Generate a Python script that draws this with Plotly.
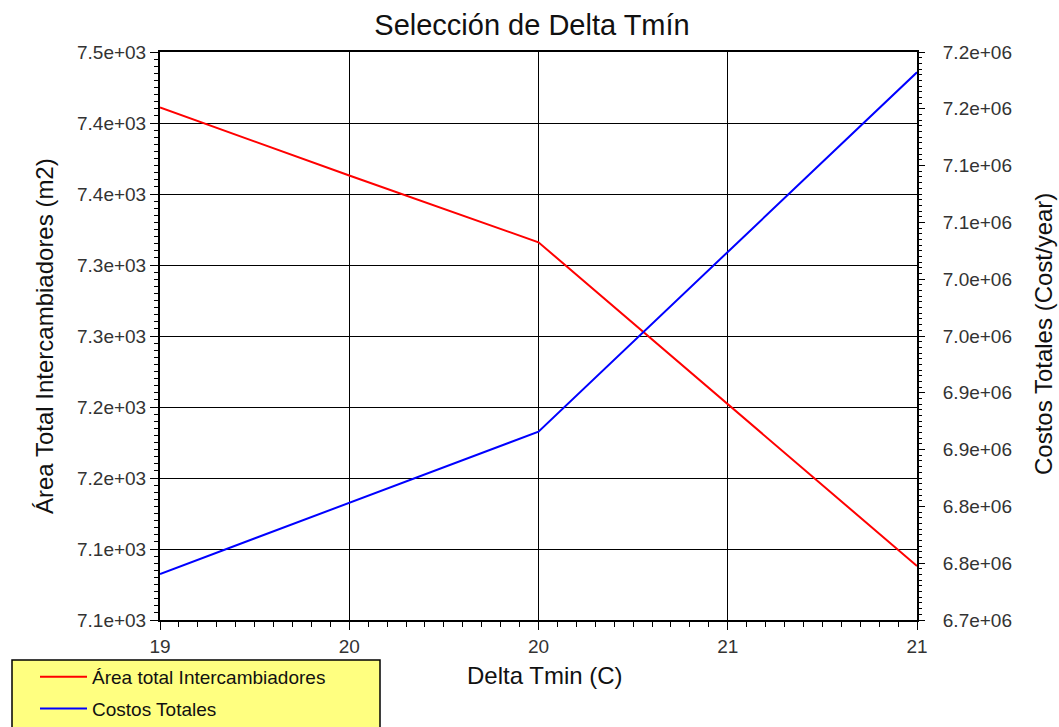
import plotly.graph_objects as go

# ---- data ----
delta_tmin = [19, 19.5, 20, 20.5, 21]
area_total = [7411, 7363, 7316, 7202, 7088]
costos_totales = [6.7405e6, 6.8030e6, 6.8658e6, 7.0240e6, 7.1821e6]

x_tickvals = [19, 19.5, 20, 20.5, 21]
x_ticktext = ["19", "20", "20", "21", "21"]
y1_tickvals = [7050, 7100, 7150, 7200, 7250, 7300, 7350, 7400, 7450]
y1_ticktext = ["7.1e+03", "7.1e+03", "7.2e+03", "7.2e+03", "7.3e+03",
               "7.3e+03", "7.4e+03", "7.4e+03", "7.5e+03"]
y2_tickvals = [6.70e6, 6.75e6, 6.80e6, 6.85e6, 6.90e6, 6.95e6,
               7.00e6, 7.05e6, 7.10e6, 7.15e6, 7.20e6]
y2_ticktext = ["6.7e+06", "6.8e+06", "6.8e+06", "6.9e+06", "6.9e+06", "7.0e+06",
               "7.0e+06", "7.1e+06", "7.1e+06", "7.2e+06", "7.2e+06"]

FONT = "Liberation Sans, Arial, sans-serif"
TICKCOL = "#333333"

W, H = 1059, 727
L, R, T, B = 160, 917, 52, 620
PW, PH = R - L, B - T


def px(xp):
    return (xp - L) / PW


def py(yp):
    return (B - yp) / PH


fig = go.Figure()
fig.add_trace(go.Scatter(
    x=delta_tmin, y=area_total, mode="lines",
    name="Área total Intercambiadores", legendgroup="a",
    line=dict(color="#FF0000", width=2), yaxis="y"))
fig.add_trace(go.Scatter(
    x=delta_tmin, y=costos_totales, mode="lines",
    name="Costos Totales", legendgroup="b",
    line=dict(color="#0000FF", width=2), yaxis="y2"))

fig.update_layout(
    width=W, height=H,
    margin=dict(l=L, r=W - R, t=T, b=H - B, pad=0, autoexpand=False),
    paper_bgcolor="white", plot_bgcolor="white",
    font=dict(family=FONT, color="#111111"),
    title=dict(text="Selección de Delta Tmín", x=px(532), xref="paper",
               xanchor="center", y=1 - 25 / H, yref="container",
               yanchor="middle", font=dict(size=29, color="#111111", family=FONT)),
    xaxis=dict(
        range=[19, 21], tickmode="array", tickvals=x_tickvals, ticktext=x_ticktext,
        showgrid=True, gridcolor="#000000", gridwidth=1,
        showline=True, linecolor="#000000", linewidth=2, mirror=True,
        ticks="outside", ticklen=8, tickcolor="#000000", tickwidth=1,
        minor=dict(tickmode="linear", tick0=19, dtick=0.05, ticks="outside",
                   ticklen=5, tickcolor="#000000", showgrid=False),
        tickfont=dict(size=19, color=TICKCOL, family=FONT),
        zeroline=False,
    ),
    yaxis=dict(
        range=[7050, 7450], tickmode="array", tickvals=y1_tickvals, ticktext=y1_ticktext,
        showgrid=True, gridcolor="#000000", gridwidth=1,
        showline=True, linecolor="#000000", linewidth=2,
        ticks="outside", ticklen=8, tickcolor="#000000", tickwidth=1,
        minor=dict(tickmode="linear", tick0=7050, dtick=5, ticks="outside",
                   ticklen=4, tickcolor="#000000", showgrid=False),
        tickfont=dict(size=19, color=TICKCOL, family=FONT),
        zeroline=False,
    ),
    yaxis2=dict(
        range=[6.70e6, 7.20e6], overlaying="y", side="right",
        tickmode="array", tickvals=y2_tickvals, ticktext=y2_ticktext,
        showgrid=False, showline=True, linecolor="#000000", linewidth=2,
        ticks="outside", ticklen=6, tickcolor="#000000", tickwidth=1,
        ticklabelstandoff=14,
        minor=dict(tickmode="linear", tick0=6.70e6, dtick=5000, ticks="outside",
                   ticklen=3, tickcolor="#000000", showgrid=False),
        tickfont=dict(size=19, color=TICKCOL, family=FONT),
        zeroline=False,
    ),
    showlegend=True,
    legend=dict(x=px(35), y=py(658), xanchor="left", yanchor="top",
                bgcolor="rgba(0,0,0,0)", borderwidth=0,
                font=dict(size=19, color="#111111", family=FONT),
                itemwidth=47, tracegroupgap=4),
    shapes=[dict(type="rect", xref="paper", yref="paper",
                 x0=px(12), x1=px(380), y0=py(735), y1=py(660),
                 fillcolor="#FFFF80", line=dict(color="#000000", width=1.5),
                 layer="below")],
    annotations=[
        dict(text="Delta Tmin (C)", x=px(545), y=py(675), xref="paper", yref="paper",
             showarrow=False, xanchor="center", yanchor="middle",
             font=dict(size=24, color="#111111", family=FONT)),
        dict(text="Área Total Intercambiadores (m2)", x=px(44), y=py(336),
             xref="paper", yref="paper", showarrow=False, textangle=-90,
             xanchor="center", yanchor="middle",
             font=dict(size=24, color="#111111", family=FONT)),
        dict(text="Costos Totales (Cost/year)", x=px(1043), y=py(334),
             xref="paper", yref="paper", showarrow=False, textangle=-90,
             xanchor="center", yanchor="middle",
             font=dict(size=24, color="#111111", family=FONT)),
    ],
)

fig.write_html("out.html")
